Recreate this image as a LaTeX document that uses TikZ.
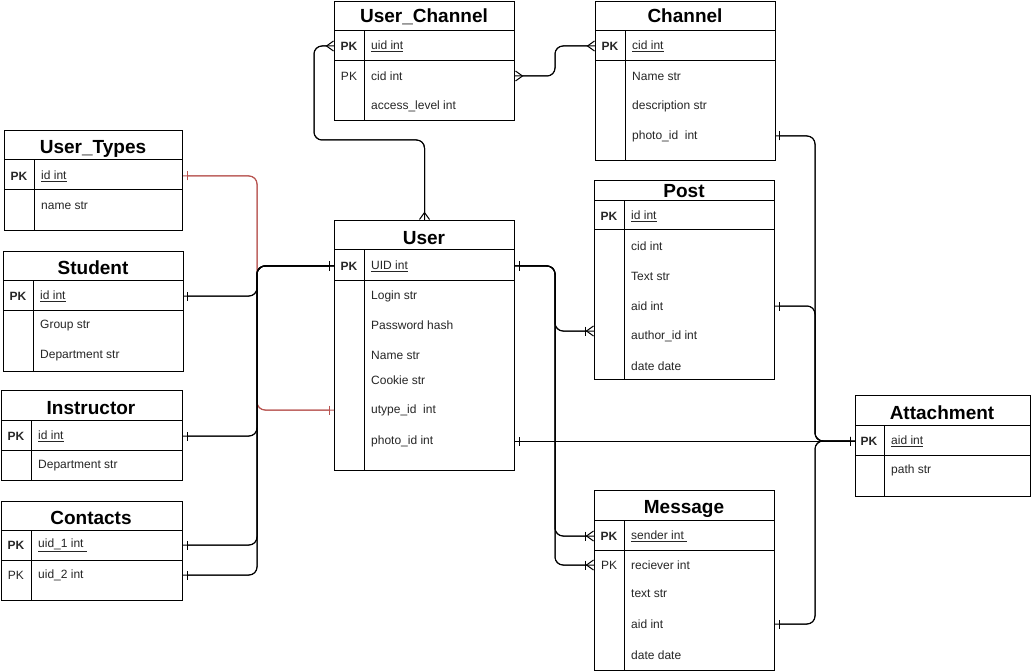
\documentclass[tikz,border=0pt]{standalone}
\usepackage{fontspec}
\setmainfont{Liberation Sans}
\usetikzlibrary{positioning,arrows.meta,calc}
\definecolor{erink}{HTML}{000000}
\definecolor{ertext}{HTML}{262626}
\definecolor{erred}{HTML}{B85450}

\begin{document}
\begin{tikzpicture}[x=1pt, y=-1pt, font=\fontsize{12}{14}\selectfont,
  tbl/.style={draw=erink, line width=1pt, fill=white, anchor=north west, inner sep=0pt},
  ttl/.style={font=\fontsize{19}{22}\selectfont\bfseries, inner sep=0pt, anchor=base},
  fld/.style={anchor=west, inner sep=0pt, text=ertext},
  pkl/.style={inner sep=0pt, text=ertext},
  pkb/.style={pkl, font=\fontsize{12}{14}\selectfont\bfseries},
  rule/.style={draw=erink, line width=1pt},
  rel/.style={draw=#1, line width=1pt, rounded corners=8pt,
    preaction={draw=#1, line width=1pt, arrows=-, shorten <=0pt, shorten >=0pt}},
  rel/.default=erink,
  barboth/.style={shorten <=4pt, shorten >=4pt},
  barstart/.style={shorten <=4pt},
  erone/.tip={Bar[width=9pt]},
  ermany/.tip={Straight Barb[reversed, length=7pt, width=10pt]},
  eronemany/.tip={Bar[width=9pt] Straight Barb[reversed, length=7pt, width=10pt]}]
\useasboundingbox[fill=white] (0,0) rectangle (1031,671);
% ===== left column =====
\node[tbl, minimum width=178, minimum height=100] (uty) at (4,130) {};
\node[ttl] at (93,154) {User\_Types};
\draw[rule] (4,160) -- (182,160) (4,190) -- (182,190) (34,160) -- (34,230);
\node[pkb] at (19,176) {PK};
\node[fld] (uty-id) at (41,176) {\underline{id int}};
\node[fld] (uty-name) at (41,206) {name str};

\node[tbl, minimum width=180, minimum height=120] (stu) at (3,251) {};
\node[ttl] at (93,274) {Student};
\draw[rule] (3,280) -- (183,280) (3,310) -- (183,310) (33,280) -- (33,371);
\node[pkb] at (18,296) {PK};
\node[fld] (stu-id) at (40,296) {\underline{id int}};
\foreach \y/\t in {326/Group str, 356/Department str}
  \node[fld] at (40,\y) {\t};

\node[tbl, minimum width=181, minimum height=90] (ins) at (1,390) {};
\node[ttl] at (91,414) {Instructor};
\draw[rule] (1,420) -- (182,420) (1,450) -- (182,450) (31,420) -- (31,480);
\node[pkb] at (16,436) {PK};
\node[fld] (ins-id) at (38,436) {\underline{id int}};
\node[fld] (ins-dept) at (38,466) {Department str};

\node[tbl, minimum width=181, minimum height=99] (con) at (1,501) {};
\node[ttl] at (91,524) {Contacts};
\draw[rule] (1,530) -- (182,530) (1,560) -- (182,560) (31,530) -- (31,600);
\node[pkb] at (16,545) {PK};
\node[fld] (con-u1) at (38,545) {\underline{uid\_1 int~}};
\node[pkl] at (16,575) {PK};
\node[fld] (con-u2) at (38,575) {uid\_2 int};

% ===== middle column =====
\node[tbl, minimum width=180, minimum height=119] (uch) at (334,1) {};
\node[ttl] at (424,23) {User\_Channel};
\draw[rule] (334,31) -- (514,31) (334,61) -- (514,61) (364,31) -- (364,120);
\node[pkb] at (349,46) {PK};
\node[fld] (uch-uid) at (371,46) {\underline{uid int}};
\node[pkl] at (349,76) {PK};
\node[fld] (uch-cid) at (371,76) {cid int};
\node[fld] (uch-level) at (371,106) {access\_level int};

\node[tbl, minimum width=180, minimum height=250] (usr) at (334,220) {};
\node[ttl] at (424,244) {User};
\draw[rule] (334,250) -- (514,250) (334,280) -- (514,280) (364,250) -- (364,470);
\node[pkb] at (349,266) {PK};
\node[fld] (usr-uid) at (371,266) {\underline{UID int}};
\foreach \y/\n/\t in {296/login/Login str, 325/pass/Password hash, 355/name/Name str,
    380/cookie/Cookie str, 410/utype/utype\_id\ \ int, 441/photo/photo\_id int}
  \node[fld] (usr-\n) at (371,\y) {\t};

% ===== right column =====
\node[tbl, minimum width=180, minimum height=159] (chn) at (595,1) {};
\node[ttl] at (685,23) {Channel};
\draw[rule] (595,31) -- (775,31) (595,61) -- (775,61) (625,31) -- (625,160);
\node[pkb] at (610,46) {PK};
\node[fld] (chn-cid) at (632,46) {\underline{cid int}};
\foreach \y/\n/\t in {76/name/Name str, 106/descr/description str, 136/photo/photo\_id\ \ int}
  \node[fld] (chn-\n) at (632,\y) {\t};

\node[tbl, minimum width=180, minimum height=199] (pst) at (594,180) {};
\node[ttl] at (684,198) {Post};
\draw[rule] (594,201) -- (774,201) (594,230) -- (774,230) (624,201) -- (624,379);
\node[pkb] at (609,216) {PK};
\node[fld] (pst-id) at (631,216) {\underline{id int}};
\foreach \y/\n/\t in {246/cid/cid int, 276/text/Text str, 306/aid/aid int,
    336/author/author\_id int, 366/date/date date}
  \node[fld] (pst-\n) at (631,\y) {\t};

\node[tbl, minimum width=180, minimum height=180] (msg) at (594,490) {};
\node[ttl] at (684,513) {Message};
\draw[rule] (594,520) -- (774,520) (594,550) -- (774,550) (624,520) -- (624,670);
\node[pkb] at (609,536) {PK};
\node[fld] (msg-sender) at (631,536) {\underline{sender int~}};
\node[pkl] at (609,565) {PK};
\foreach \y/\n/\t in {565/recv/reciever int, 594/text/text str, 624/aid/aid int, 655/date/date date}
  \node[fld] (msg-\n) at (631,\y) {\t};

\node[tbl, minimum width=175, minimum height=101] (att) at (855,395) {};
\node[ttl] at (942,419) {Attachment};
\draw[rule] (855,425) -- (1030,425) (855,455) -- (1030,455) (884,425) -- (884,496);
\node[pkb] at (869,441) {PK};
\node[fld] (att-aid) at (891,441) {\underline{aid int}};
\node[fld] (att-path) at (891,470) {path str};

% ===== relations =====
\draw[rel=erred, barboth, erone-erone] (uty.east |- uty-id) -| (257,0 |- usr-utype) -- (usr.west |- usr-utype);
\foreach \src in {stu-id, ins-id, con-u1, con-u2}
  \draw[rel, barboth, erone-erone] (con.east |- \src) -| (257,0 |- usr-uid) -- (usr.west |- usr-uid);
\draw[rel, ermany-ermany] (usr.north) |- (314,140) |- (uch.west |- uch-uid);
\draw[rel, ermany-ermany] (uch.east |- uch-cid) -- (555,0 |- uch-cid) |- (chn.west |- chn-cid);
\coordinate (pst-in) at ($(pst.west |- pst-author)+(0,-5)$);
\draw[rel, barstart, erone-eronemany] (usr.east |- usr-uid) -| (555,0 |- pst-in) -- (pst-in);
\foreach \dst in {msg-sender, msg-recv}
  \draw[rel, barstart, erone-eronemany] (usr.east |- usr-uid) -| (555,0 |- \dst) -- (msg.west |- \dst);
\foreach \src in {chn-photo, pst-aid, msg-aid}
  \draw[rel, barboth, erone-erone] (pst.east |- \src) -| (815,0 |- att-aid) -- (att.west |- att-aid);
\draw[rel, barboth, erone-erone] (usr.east |- usr-photo) -- (att.west |- att-aid);
\end{tikzpicture}
\end{document}
